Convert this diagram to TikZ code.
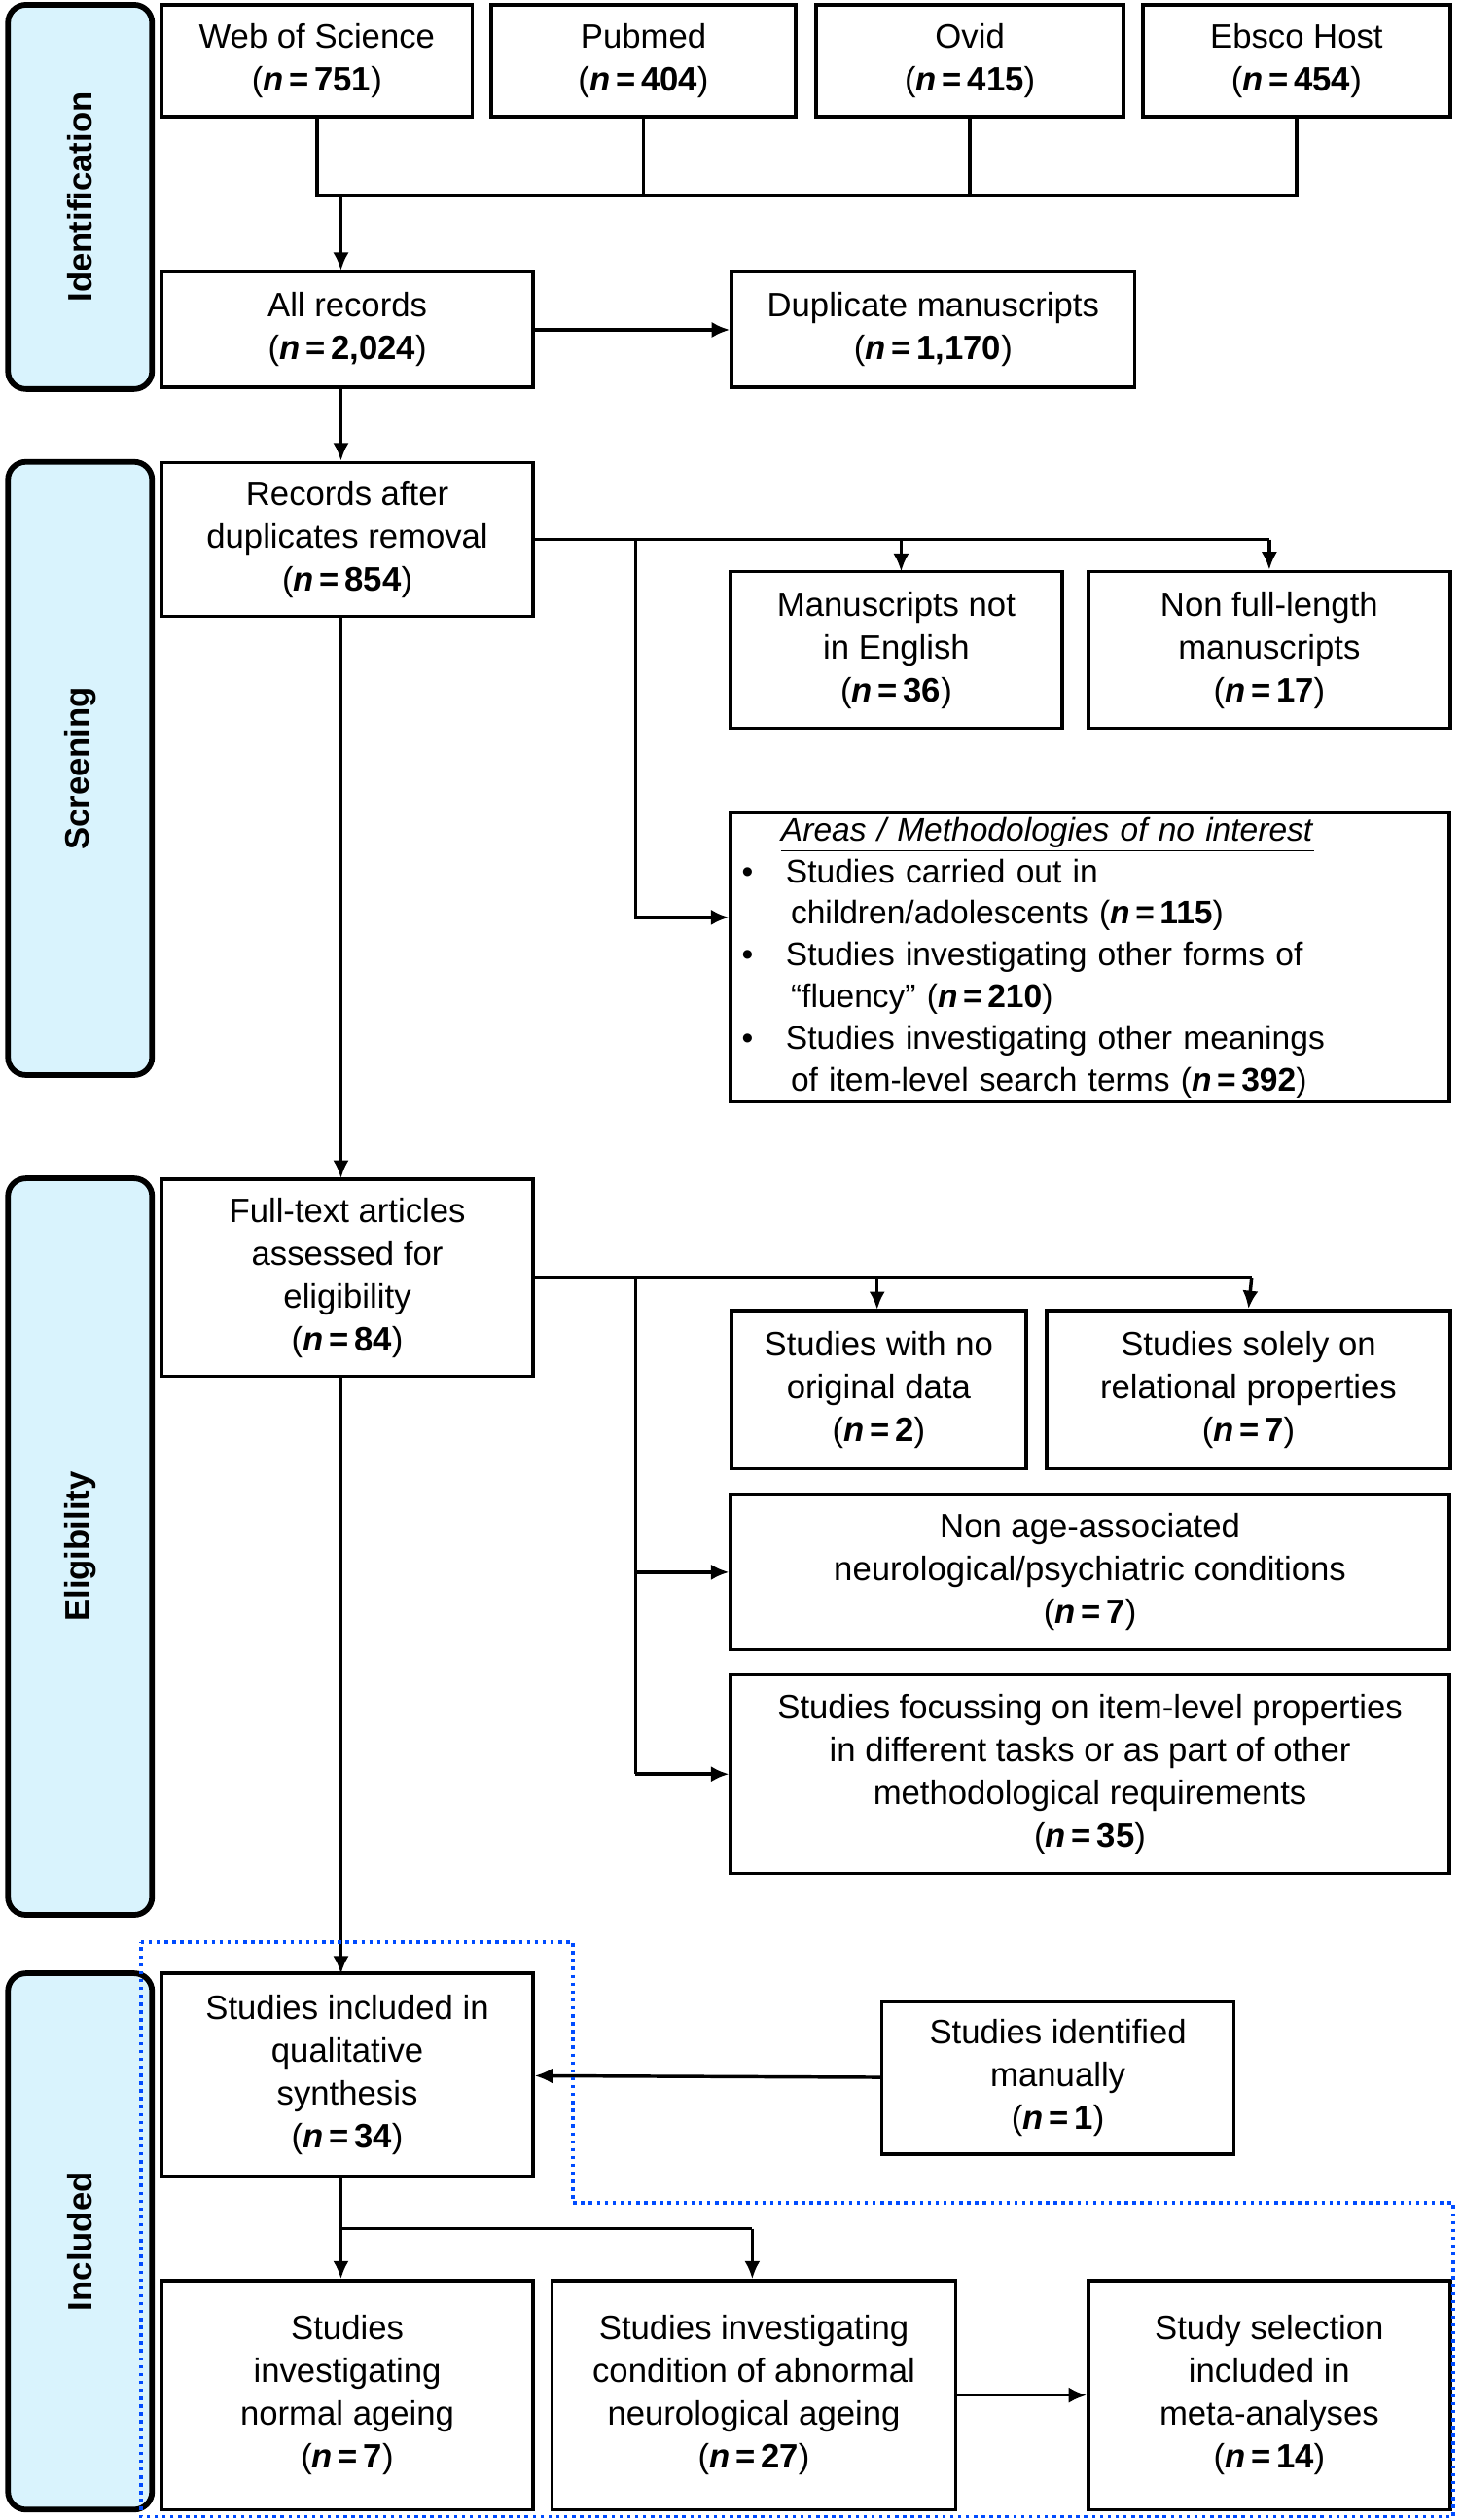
\documentclass[tikz,border=0pt]{standalone}
\usepackage{fontspec}
\setmainfont{Liberation Sans}
\usetikzlibrary{arrows.meta}
\newcommand{\nval}[1]{(\textbf{\textit{n}\,=\,#1})}
\tikzset{
  >={Latex[length=8pt,width=7pt]},
  line/.style={draw, line width=1.5pt, ->},
  plain/.style={draw, line width=1.5pt},
  box/.style={draw, line width=1.5pt, rectangle, align=center, font=\fontsize{15}{19}\selectfont, inner sep=2pt},
  phase/.style={draw, line width=2.5pt, rounded corners=8pt, fill=cyan!15, font=\fontsize{15}{19}\selectfont\bfseries}
}
\begin{document}
\begin{tikzpicture}[x=0.025cm, y=-0.025cm]
    \useasboundingbox (0,0) rectangle (913,1574);
    % Phases
    \node [phase, minimum width=90*0.025cm, minimum height=240*0.025cm] (ident) at (50,123) {\rotatebox{90}{Identification}};
    \node [phase, minimum width=90*0.025cm, minimum height=383*0.025cm] (screen) at (50,480) {\rotatebox{90}{Screening}};
    \node [phase, minimum width=90*0.025cm, minimum height=460*0.025cm] (elig) at (50,966) {\rotatebox{90}{Eligibility}};
    \node [phase, minimum width=90*0.025cm, minimum height=335*0.025cm] (incl) at (50,1400) {\rotatebox{90}{Included}};

    % Identification
    \node [box, minimum width=194*0.025cm, minimum height=70*0.025cm] (wos) at (198,38) {Web of Science\\\nval{751}};
    \node [box, minimum width=190*0.025cm, minimum height=70*0.025cm] (pubmed) at (402,38) {Pubmed\\\nval{404}};
    \node [box, minimum width=192*0.025cm, minimum height=70*0.025cm] (ovid) at (606,38) {Ovid\\\nval{415}};
    \node [box, minimum width=192*0.025cm, minimum height=70*0.025cm] (ebsco) at (810,38) {Ebsco Host\\\nval{454}};
    \node [box, minimum width=232*0.025cm, minimum height=72*0.025cm] (all) at (217,206) {All records\\\nval{2,024}};
    \node [box, minimum width=252*0.025cm, minimum height=72*0.025cm] (dup) at (583,206) {Duplicate manuscripts\\\nval{1,170}};
    \coordinate (join) at (213,122);
    \draw [plain] (wos.south) |- (join) -| (ebsco.south);
    \draw [plain] (pubmed.south) -- (pubmed.south |- join);
    \draw [plain] (ovid.south) -- (ovid.south |- join);
    \draw [line] (join) -- (all.north -| join);
    \draw [line] (all) -- (dup);

    % Screening
    \node [box, minimum width=232*0.025cm, minimum height=96*0.025cm] (after) at (217,337) {Records after\\duplicates removal\\\nval{854}};
    \node [box, minimum width=207*0.025cm, minimum height=98*0.025cm] (english) at (560,406) {Manuscripts not\\in English\\\nval{36}};
    \node [box, minimum width=226*0.025cm, minimum height=98*0.025cm] (fulllen) at (793,406) {Non full-length\\manuscripts\\\nval{17}};
    \node [box, minimum width=449*0.025cm, minimum height=154*0.025cm, align=left, text width=435*0.025cm, font=\fontsize{14.5}{18.5}\selectfont] (areas) at (681,598)
      {\hspace*{1.2em}\underline{\textit{Areas / Methodologies of no interest}}\\
       \textbullet\hspace{1em}Studies carried out in\\
       \hspace*{1.5em}children/adolescents (\textbf{\textit{n}\,=\,115})\\
       \textbullet\hspace{1em}Studies investigating other forms of\\
       \hspace*{1.5em}“fluency” (\textbf{\textit{n}\,=\,210})\\
       \textbullet\hspace{1em}Studies investigating other meanings\\
       \hspace*{1.5em}of item-level search terms (\textbf{\textit{n}\,=\,392})};
    \draw [line] (all.south -| 213,0) -- (after.north -| 213,0);
    \coordinate (sbranch) at (397,337);
    \draw [plain] (after.east) -- (793,337);
    \draw [line] (563,337) -- (563,357);
    \draw [line] (793,337) -- (fulllen.north);
    \draw [line] (sbranch) |- (areas.west |- 0,573);
    \draw [line] (213,385) -- (213,736);

    % Eligibility
    \node [box, minimum width=232*0.025cm, minimum height=123*0.025cm] (fulltext) at (217,798) {Full-text articles\\assessed for\\eligibility\\\nval{84}};
    \node [box, minimum width=184*0.025cm, minimum height=99*0.025cm] (nodata) at (549,868) {Studies with no\\original data\\\nval{2}};
    \node [box, minimum width=252*0.025cm, minimum height=99*0.025cm] (relat) at (780,868) {Studies solely on\\relational properties\\\nval{7}};
    \node [box, minimum width=449*0.025cm, minimum height=97*0.025cm] (nonage) at (681,982) {Non age-associated\\neurological/psychiatric conditions\\\nval{7}};
    \node [box, minimum width=449*0.025cm, minimum height=124*0.025cm] (focus) at (681,1108) {Studies focussing on item-level properties\\in different tasks or as part of other\\methodological requirements\\\nval{35}};
    \draw [plain] (fulltext.east) -- (782,798);
    \draw [line] (548,798) -- (548,818);
    \draw [line] (782,798) -- (relat.north);
    \draw [plain] (397,798) -- (397,1108);
    \draw [line] (397,982) -- (nonage.west);
    \draw [line] (397,1108) -- (focus.west);
    \draw [line] (213,859) -- (213,1233);

    % Included
    \node [box, minimum width=232*0.025cm, minimum height=127*0.025cm] (qual) at (217,1296) {Studies included in\\qualitative\\synthesis\\\nval{34}};
    \node [box, minimum width=220*0.025cm, minimum height=95*0.025cm] (manual) at (661,1298) {Studies identified\\manually\\\nval{1}};
    \node [box, minimum width=232*0.025cm, minimum height=143*0.025cm] (normal) at (217,1496) {Studies\\investigating\\normal ageing\\\nval{7}};
    \node [box, minimum width=252*0.025cm, minimum height=143*0.025cm] (abnorm) at (471,1496) {Studies investigating\\condition of abnormal\\neurological ageing\\\nval{27}};
    \node [box, minimum width=226*0.025cm, minimum height=143*0.025cm] (meta) at (793,1496) {Study selection\\included in\\meta-analyses\\\nval{14}};
    \draw [line] (manual) -- (qual);
    \coordinate (ibranch) at (213,1392);
    \draw [plain] (qual.south -| ibranch) -- (ibranch) -- (470,1392);
    \draw [line] (ibranch) -- (normal.north -| ibranch);
    \draw [line] (470,1392) -- (abnorm.north -| 470,0);
    \draw [line] (abnorm) -- (meta);
    \draw [blue!70!cyan, line width=1.5pt, dotted] (88,1213) -- (358,1213) -- (358,1376) -- (908,1376) -- (908,1572) -- (88,1572) -- cycle;
\end{tikzpicture}
\end{document}
